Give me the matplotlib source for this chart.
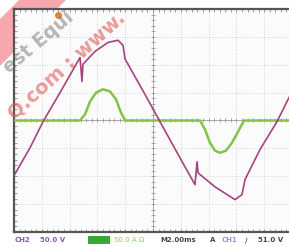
#!/usr/bin/env python
# scope capture: CH2 voltage (purple) and current (green)
import numpy as np
import matplotlib
matplotlib.use("Agg")
import matplotlib.pyplot as plt
from matplotlib.patches import Polygon

# time in ms (2 ms/div), CH2 in V (50 V/div)
v_t = [0, 1.15, 2.09, 3.31, 4.75, 4.89, 4.96, 5.83, 6.76, 7.48, 7.84, 7.99, 8.20,
       9.42, 10.5, 11.94, 13.02, 13.17, 13.24, 14.46, 15.9, 16.4, 16.62, 17.7,
       18.92, 19.78]
v_val = [-99, -49, -2, 50, 113, 70, 101, 124, 140, 144, 135, 110, 101,
         47, -2, -67, -115, -74, -94, -119, -142, -133, -106, -52,
         -2, 41]

# current trace in A (50 A/div)
i_t = [0, 4.75, 5.11, 5.47, 5.90, 6.40, 6.91, 7.34, 7.70, 7.99,
       13.38, 13.74, 14.10, 14.46, 14.82, 15.25, 15.68, 16.12, 16.55, 20]
i_val = [0, 0, 11, 34, 50, 56, 52, 38, 14, 0,
         0, -16, -40, -54, -58, -54, -40, -20, 0, 0]

trig_t = 3.17  # trigger marker on top edge

W, H = 289, 247
fig = plt.figure(figsize=(W / 100, H / 100), dpi=100)
fig.patch.set_facecolor("white")

ax = fig.add_axes([14 / W, (H - 232) / H, 278 / W, 223 / H])
ax.set_facecolor("#fbfbfb")
ax.set_xlim(0, 20)
ax.set_ylim(-200, 200)

# graticule
for x in np.arange(2, 20, 2):
    ax.axvline(x, color="#c8c8c8", lw=0.6, ls=(0, (1, 2)), zorder=1)
for y in np.arange(-150, 200, 50):
    ax.axhline(y, color="#c8c8c8", lw=0.6, ls=(0, (1, 2)), zorder=1)
ax.axvline(10, color="#a0a0a0", lw=0.6, zorder=1)
ax.axhline(0, color="#a0a0a0", lw=0.6, zorder=1)
mx = np.arange(0.4, 20, 0.4)
my = np.arange(-190, 200, 10)
ax.plot(mx, np.zeros_like(mx), ls="none", marker="|", ms=3, mew=0.5, color="#8a8a8a", zorder=1)
ax.plot(np.full_like(my, 10.0), my, ls="none", marker="_", ms=3, mew=0.5, color="#8a8a8a", zorder=1)

ax.set_xticks([])
ax.set_yticks([])
ax.set_xticks(mx, minor=True)
ax.set_yticks(my, minor=True)
ax.tick_params(which="minor", direction="in", length=2, width=0.5, color="#777777",
               top=True, right=True)
for s in ax.spines.values():
    s.set_color("#555555")
    s.set_linewidth(1.6)

# traces
ax.plot(i_t, i_val, color="#86c24a", lw=1.8, zorder=3, solid_capstyle="round")
ax.plot(v_t, v_val, color="#a8437f", lw=1.2, zorder=4)
ax.plot([trig_t], [190], "o", color="#e0843a", ms=4, clip_on=False, zorder=5)

# watermark (pixel positions -> figure fraction)
band = [[0, 20], [0, 65], [65, 0], [20, 0]]
fig.patches.append(Polygon([[x / W, 1 - y / H] for x, y in band], closed=True,
                           transform=fig.transFigure, color="#f6a8ae",
                           zorder=-1))
fig.text(9 / W, 1 - 74 / H, "est Equi", rotation=40, rotation_mode="anchor",
         ha="left", va="baseline", fontsize=13.5, fontweight="bold",
         color="#707070", alpha=0.5, zorder=6)
fig.text(14 / W, 1 - 120 / H, "Q.com : www.", rotation=42, rotation_mode="anchor",
         ha="left", va="baseline", fontsize=14, fontweight="bold",
         color="#e05858", alpha=0.6, zorder=6)

# status bar
y0 = 1 - 240 / H
fs = 5
fig.text(15 / W, y0, "CH2", color="#8a5aa8", fontsize=fs, va="center", fontweight="bold")
fig.text(40 / W, y0, "50.0 V", color="#8a5aa8", fontsize=fs, va="center", fontweight="bold")
fig.text(89 / W, y0, "MATH", color="#3a9a3a", fontsize=fs, va="center",
         bbox=dict(boxstyle="square,pad=0.15", fc="#3aaa3a", ec="none"))
fig.text(114 / W, y0, "50.0 A Ω", color="#8ccc6a", fontsize=fs, va="center")
fig.text(160 / W, y0, "M2.00ms", color="#444444", fontsize=fs, va="center", fontweight="bold")
fig.text(210 / W, y0, "A", color="#444444", fontsize=fs, va="center", fontweight="bold")
fig.text(222 / W, y0, "CH1", color="#b08ad0", fontsize=fs, va="center", fontweight="bold")
fig.text(245 / W, y0, "∕", color="#444444", fontsize=fs, va="center", fontweight="bold")
fig.text(258 / W, y0, "51.0 V", color="#444444", fontsize=fs, va="center", fontweight="bold")

fig.savefig("out.png", dpi=100, facecolor="white")
